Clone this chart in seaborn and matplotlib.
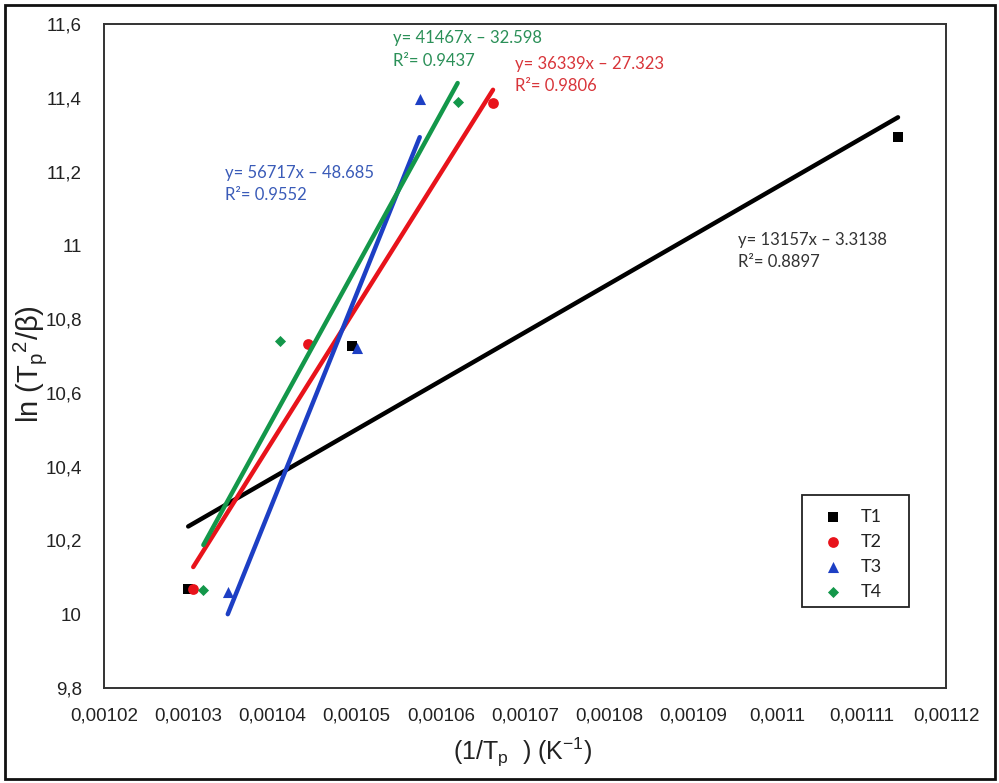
import matplotlib
matplotlib.use("Agg")
import matplotlib.pyplot as plt
from matplotlib.patches import Rectangle
import numpy as np
import pandas as pd
import seaborn as sns

# Kissinger-type data: ln(Tp^2/beta) versus 1/Tp for four peaks
series = ["T1", "T2", "T3", "T4"]
inv_tp = {
    "T1": [0.0010300, 0.0010495, 0.0011143],
    "T2": [0.0010306, 0.0010442, 0.0010662],
    "T3": [0.0010347, 0.0010500, 0.0010575],
    "T4": [0.0010318, 0.0010409, 0.0010620],
}
ln_tp2_beta = {
    "T1": [10.068, 10.726, 11.295],
    "T2": [10.068, 10.732, 11.385],
    "T3": [10.060, 10.723, 11.398],
    "T4": [10.065, 10.740, 11.388],
}
# Linear fits (slope, intercept, R^2)
slopes = {"T1": 13157, "T2": 36339, "T3": 56717, "T4": 41467}
intercepts = {"T1": -3.3138, "T2": -27.323, "T3": -48.685, "T4": -32.598}
r_squared = {"T1": 0.8897, "T2": 0.9806, "T3": 0.9552, "T4": 0.9437}

x_ticks = [0.00102, 0.00103, 0.00104, 0.00105, 0.00106, 0.00107,
           0.00108, 0.00109, 0.00110, 0.00111, 0.00112]
x_tick_labels = ["0,00102", "0,00103", "0,00104", "0,00105", "0,00106",
                 "0,00107", "0,00108", "0,00109", "0,0011", "0,00111", "0,00112"]
y_ticks = [9.8, 10.0, 10.2, 10.4, 10.6, 10.8, 11.0, 11.2, 11.4, 11.6]
y_tick_labels = ["9,8", "10", "10,2", "10,4", "10,6", "10,8", "11", "11,2", "11,4", "11,6"]

colors = {"T1": "#000000", "T2": "#e8131b", "T3": "#1d3fc4", "T4": "#13974a"}
text_colors = {"T1": "#333333", "T2": "#d8353a", "T3": "#3a5bb8", "T4": "#2b9058"}
markers = {"T1": "s", "T2": "o", "T3": "^", "T4": "D"}
marker_sizes = {"T1": 55, "T2": 60, "T3": 64, "T4": 32}

points = pd.DataFrame(
    [(s, x, y) for s in series for x, y in zip(inv_tp[s], ln_tp2_beta[s])],
    columns=["series", "x", "y"],
)
fit_rows = []
for s in series:
    xs = np.array([min(inv_tp[s]), max(inv_tp[s])])
    for xv in xs:
        fit_rows.append((s, xv, slopes[s] * xv + intercepts[s]))
fits = pd.DataFrame(fit_rows, columns=["series", "x", "y"])

sns.set_theme(style="white")
plt.rcParams["font.family"] = ["Liberation Sans", "DejaVu Sans"]

W, H = 999, 783
L, R, T, B = 104, 946, 24, 688

fig = plt.figure(figsize=(W / 100, H / 100), dpi=100)
ax = fig.add_axes([L / W, 1 - B / H, (R - L) / W, (B - T) / H])


def ax_frac(px, py):
    return (px - L) / (R - L), (B - py) / (B - T)


for s in series:
    sub = points[points["series"] == s]
    sns.scatterplot(data=sub, x="x", y="y", marker=markers[s], color=colors[s],
                    s=marker_sizes[s], linewidth=0, ax=ax, label=s, zorder=3,
                    legend=False)

sns.lineplot(data=fits, x="x", y="y", hue="series", palette=colors,
             linewidth=3.2, ax=ax, legend=False, zorder=4)

ax.set_xlim(0.00102, 0.00112)
ax.set_ylim(9.8, 11.6)
ax.set_xticks(x_ticks)
ax.set_xticklabels(x_tick_labels)
ax.set_yticks(y_ticks)
ax.set_yticklabels(y_tick_labels)
ax.tick_params(axis="both", length=0, labelsize=13.5, colors="#222222")
ax.tick_params(axis="x", pad=14)
ax.tick_params(axis="y", pad=16)
ax.set_xlabel("")
ax.set_ylabel("")
for sp in ax.spines.values():
    sp.set_color("#333333")
    sp.set_linewidth(1.4)

# Fit equations
eq_font = ["Lato", "DejaVu Sans"]
eq_pos = {"T4": (393, 43, 66), "T2": (515, 69, 91), "T3": (225, 178, 200), "T1": (738, 245, 267)}
for s in series:
    px, py1, py2 = eq_pos[s]
    fx, fy1 = ax_frac(px, py1)
    _, fy2 = ax_frac(px, py2)
    ax.text(fx, fy1, f"y= {slopes[s]}x – {abs(intercepts[s])}",
            transform=ax.transAxes, fontsize=12, family=eq_font,
            color=text_colors[s], va="baseline", ha="left")
    ax.text(fx, fy2, f"R²= {r_squared[s]}",
            transform=ax.transAxes, fontsize=12, family=eq_font,
            color=text_colors[s], va="baseline", ha="left")

# Legend entries without the default frame; a plain box is drawn around them
lx, ly = ax_frac(819, 509)
leg = ax.legend(loc="upper left", bbox_to_anchor=(lx, ly), frameon=False,
                prop={"family": eq_font, "size": 13},
                handletextpad=0.83, borderpad=0, labelspacing=0.49,
                borderaxespad=0, handlelength=1.5)
for t in leg.get_texts():
    t.set_color("#222222")
fx0, fy0 = ax_frac(802, 607)
fx1, fy1 = ax_frac(909, 495)
ax.add_patch(Rectangle((fx0, fy0), fx1 - fx0, fy1 - fy0, transform=ax.transAxes,
                       fill=False, edgecolor="#222222", linewidth=1.3, zorder=5))

fig.text(523 / W, 1 - 752 / H, r"(1/T$_\mathregular{p}$  ) (K$^\mathregular{-1}$)",
         ha="center", va="center", fontsize=18, color="#222222")
fig.text(30 / W, 1 - 364 / H, r"ln (T$_\mathregular{p}$$^\mathregular{2}$/β)",
         ha="center", va="center", rotation=90, fontsize=21, color="#222222")

fig.patches.append(Rectangle((5 / W, 4 / H), 990 / W, 774 / H, fill=False,
                             edgecolor="#111111", linewidth=2,
                             transform=fig.transFigure, figure=fig))

fig.savefig("out.png", dpi=100)
